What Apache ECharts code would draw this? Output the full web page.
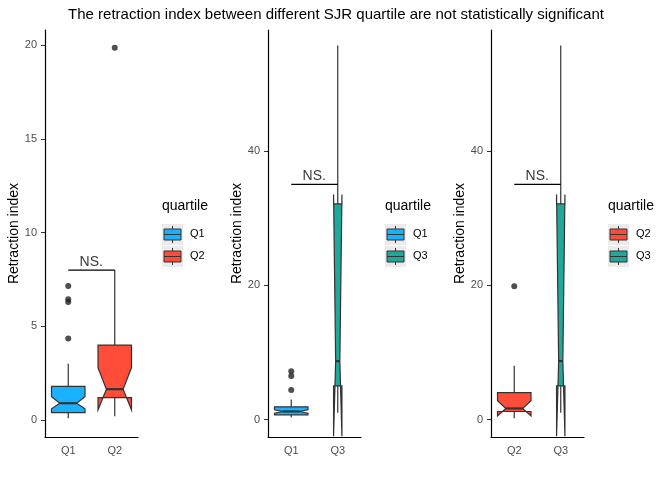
<!DOCTYPE html>
<html><head><meta charset="utf-8">
<script src="https://cdn.jsdelivr.net/npm/echarts@6/dist/echarts.min.js"></script>
<style>body{margin:0}#c{width:672px;height:480px}</style></head>
<body><div id="c"></div>
<script>
// per panel: categories, box stats [min,q1,notchLo,median,notchHi,q3,max,widthFrac], outliers
const cats1=['Q1','Q2'], cats2=['Q1','Q3'], cats3=['Q2','Q3'];
const boxQ1a=[0.1,0.4,0.6,0.9,1.25,1.8,3.0,0.72];
const boxQ2=[0.2,1.2,0.55,1.65,2.8,4.0,8.0,0.72];
const boxQ1b=[0.3,0.7,0.95,1.2,1.45,1.9,3.0,0.72];
const boxQ3=[1.0,5.0,-2.5,8.7,33.5,32.1,55.7,0.18];
const outQ1a=[4.35,6.3,6.45,7.15], outQ2=[19.85], outQ1b=[4.4,6.5,7.2], outQ3=[];
const yTicks1=[0,5,10,15,20], yTicks2=[0,20,40];
const brackets=[8,35,35];
const colors={Q1:'#1ab2ff',Q2:'#ff4d3a',Q3:'#21a89a'};
const panels=[
 {cats:cats1,boxes:[boxQ1a,boxQ2],outs:[outQ1a,outQ2],ticks:yTicks1,min:-0.9,max:20.8,left:45},
 {cats:cats2,boxes:[boxQ1b,boxQ3],outs:[outQ1b,outQ3],ticks:yTicks2,min:-2.6,max:58,left:268},
 {cats:cats3,boxes:[boxQ2,boxQ3],outs:[outQ2,outQ3],ticks:yTicks2,min:-2.6,max:58,left:491}];
const grid=[],xAxis=[],yAxis=[],series=[],graphic=[];
panels.forEach((p,i)=>{
 grid.push({left:p.left,top:30,width:93,height:407});
 xAxis.push({type:'category',gridIndex:i,data:p.cats,axisLine:{onZero:false,lineStyle:{color:'#000',width:1.2}},axisTick:{lineStyle:{color:'#333'},length:4},axisLabel:{color:'#4d4d4d',fontSize:11,fontFamily:'Liberation Sans'}});
 yAxis.push({type:'value',gridIndex:i,min:p.min,max:p.max,splitLine:{show:false},axisLine:{show:true,lineStyle:{color:'#000',width:1.2}},
  axisTick:{show:true,length:4,lineStyle:{color:'#333'},customValues:p.ticks},axisLabel:{color:'#4d4d4d',fontSize:11,fontFamily:'Liberation Sans',customValues:p.ticks},
  name:'Retraction index',nameLocation:'middle',nameGap:24,nameTextStyle:{color:'#000',fontSize:14,fontFamily:'Liberation Sans'}});
 const data=p.boxes.map((b,k)=>[k].concat(b));
 series.push({type:'custom',xAxisIndex:i,yAxisIndex:i,data:data,renderItem:(params,api)=>{
  const k=api.value(0);const cat=p.cats[k];
  const bw=api.size([1,0])[0]*api.value(8);
  const cx=api.coord([k,0])[0];const L=cx-bw/2,R=cx+bw/2,n=bw/4;
  const y=j=>api.coord([k,api.value(j)])[1];
  const ymin=y(1),yq1=y(2),ynl=y(3),ym=y(4),ynh=y(5),yq3=y(6),ymax=y(7);
  const st={stroke:'#333',lineWidth:1.2};
  return {type:'group',children:[
   {type:'line',shape:{x1:cx,y1:yq3,x2:cx,y2:ymax},style:st},
   {type:'line',shape:{x1:cx,y1:yq1,x2:cx,y2:ymin},style:st},
   {type:'polygon',shape:{points:[[L,yq3],[R,yq3],[R,ynh],[R-n,ym],[R,ynl],[R,yq1],[L,yq1],[L,ynl],[L+n,ym],[L,ynh]]},style:{fill:colors[cat],stroke:'#333',lineWidth:1.2}},
   {type:'line',shape:{x1:L+n,y1:ym,x2:R-n,y2:ym},style:{stroke:'#333',lineWidth:2.2}}]};
 }});
 const pts=[];p.outs.forEach((o,k)=>o.forEach(v=>pts.push([k,v])));
 series.push({type:'scatter',xAxisIndex:i,yAxisIndex:i,data:pts,symbolSize:6,itemStyle:{color:'#222'}});
 series.push({type:'line',xAxisIndex:i,yAxisIndex:i,data:[[0,brackets[i]],[1,brackets[i]]],symbol:'none',lineStyle:{color:'#000',width:1.2}});
 series.push({type:'scatter',xAxisIndex:i,yAxisIndex:i,data:[[0,brackets[i]]],symbolSize:0,silent:true,
  label:{show:true,position:'inside',formatter:'NS.',color:'#000',fontSize:14,fontFamily:'Liberation Sans',offset:[23,-8]}});
 const lx=p.left+117;
 graphic.push({type:'text',left:lx,top:199,style:{text:'quartile',fontSize:14,fontFamily:'Liberation Sans',fill:'#000'}});
 p.cats.forEach((c,k)=>{
  const ty=224+k*22;
  graphic.push({type:'rect',shape:{x:lx,y:ty,width:21,height:21},style:{fill:'#ebebeb'}});
  graphic.push({type:'line',shape:{x1:lx+10.5,y1:ty+2,x2:lx+10.5,y2:ty+19},style:{stroke:'#333',lineWidth:1}});
  graphic.push({type:'rect',shape:{x:lx+2,y:ty+5,width:17,height:11},style:{fill:colors[c],stroke:'#333',lineWidth:1}});
  graphic.push({type:'line',shape:{x1:lx+2,y1:ty+10.5,x2:lx+19,y2:ty+10.5},style:{stroke:'#333',lineWidth:1}});
  graphic.push({type:'text',left:lx+28,top:ty+4,style:{text:c,fontSize:11,fontFamily:'Liberation Sans',fill:'#000'}});
 });
});
const chart=echarts.init(document.getElementById('c'));
chart.setOption({animation:false,backgroundColor:'#fff',
 title:{text:'The retraction index between different SJR quartile are not statistically significant',left:'center',top:2,textStyle:{fontSize:15,fontWeight:'normal',color:'#000',fontFamily:'Liberation Sans'}},
 grid,xAxis,yAxis,series,graphic});
</script></body></html>
